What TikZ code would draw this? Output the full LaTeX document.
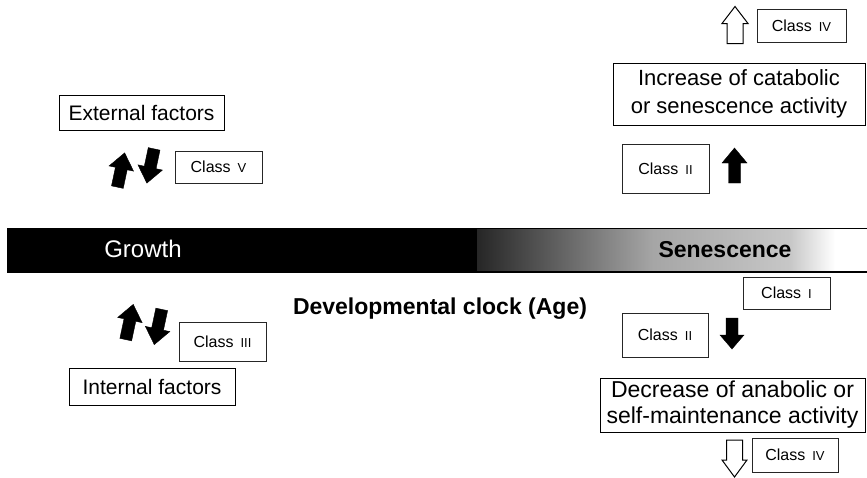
\documentclass[tikz,border=0pt]{standalone}
\usepackage{fontspec}
\setmainfont{Liberation Sans}
\begin{document}
\begin{tikzpicture}[x=1pt,y=-1pt,
  bigbox/.style={draw=black, line width=0.9pt, inner sep=0pt, align=center, font=\fontsize{22}{27}\selectfont},
  clsbox/.style={draw=black!85, line width=0.6pt, inner sep=0pt, minimum width=87pt, font=\fontsize{16}{18}\selectfont},
  solidarrow/.style={fill=black, draw=black, line width=0.4pt, line join=miter},
  openarrow/.style={fill=white, draw=black, line width=1pt, line join=miter},
  pics/barrow/.style n args={4}{code={
    \path[pic actions] (-#2/2,#4/2) -- (-#2/2,-#4/2+#3) -- (-#1/2,-#4/2+#3) -- (0,-#4/2)
      -- (#1/2,-#4/2+#3) -- (#2/2,-#4/2+#3) -- (#2/2,#4/2) -- cycle;}}
]
\newcommand{\rn}[1]{\hspace{7pt}{\fontsize{13}{13}\selectfont #1}}
\useasboundingbox (0,0) rectangle (867,477);

% time bar
\fill[black] (7,228) rectangle (477,272);
\shade[left color=black!85, right color=black!35] (477,228) rectangle (653,272);
\shade[left color=black!35, right color=black!22] (653,228) rectangle (790,272);
\shade[left color=black!22, right color=white] (790,228) rectangle (835,272);
\draw[line width=0.8pt] (7,228) -- (867,228);
\draw[line width=1.6pt] (7,272) -- (867,272);
\node[text=white, font=\fontsize{24}{24}\selectfont, anchor=base] (growth) at (143,257) {Growth};
\node[font=\bfseries\fontsize{23}{23}\selectfont, anchor=base] (sen) at (725,257) {Senescence};
\node[font=\bfseries\fontsize{23}{23}\selectfont, anchor=base] (clock) at (440,314) {Developmental clock (Age)};

% left side
\node[bigbox, minimum width=165pt, minimum height=35pt, font=\fontsize{21}{25}\selectfont] (ext) at (141.5,112.5) {External factors};
\node[clsbox, minimum height=32pt] (c5) at (218.5,167) {Class\rn{V}};
\pic[solidarrow, rotate=-12] at (121,170) {barrow={25}{12}{16}{35}};
\pic[solidarrow, rotate=168] at (150.5,166) {barrow={25}{12}{16}{35}};

\pic[solidarrow, rotate=-12] at (129.5,322) {barrow={25}{12}{16}{36}};
\pic[solidarrow, rotate=168] at (158,327) {barrow={25}{12}{16}{36}};
\node[clsbox, minimum height=39pt] (c3) at (222.5,341.5) {Class\rn{III}};
\node[bigbox, minimum width=166pt, minimum height=37pt, font=\fontsize{21}{25}\selectfont] (int) at (152,386.5) {Internal factors};

% right upper side
\pic[openarrow] at (735,25) {barrow={26}{16}{17}{37}};
\node[clsbox, minimum width=89pt, minimum height=33pt] (c4a) at (801.5,25.5) {Class\rn{IV}};
\node[bigbox, minimum width=252pt, minimum height=62pt, font=\fontsize{22}{28}\selectfont] (inc) at (739,94) {Increase of catabolic\\or senescence activity};
\node[clsbox, minimum height=49pt] (c2a) at (665.5,168.5) {Class\rn{II}};
\pic[solidarrow] at (734.5,165.5) {barrow={25}{12}{15}{35}};

% right lower side
\node[clsbox, minimum height=32pt] (c1) at (786.5,293) {Class\rn{I}};
\node[clsbox, minimum width=86pt, minimum height=44pt] (c2b) at (665,335) {Class\rn{II}};
\pic[solidarrow, rotate=180] at (732,333.5) {barrow={24}{12}{14}{31}};
\node[bigbox, minimum width=265pt, minimum height=54pt, font=\fontsize{23}{26}\selectfont] (dec) at (732.5,405) {Decrease of anabolic or\\self-maintenance activity};
\pic[openarrow, rotate=180] at (734.5,458.5) {barrow={25}{16}{17}{37}};
\node[clsbox, minimum width=86pt, minimum height=34pt] (c4b) at (795,455) {Class\rn{IV}};
\end{tikzpicture}
\end{document}
